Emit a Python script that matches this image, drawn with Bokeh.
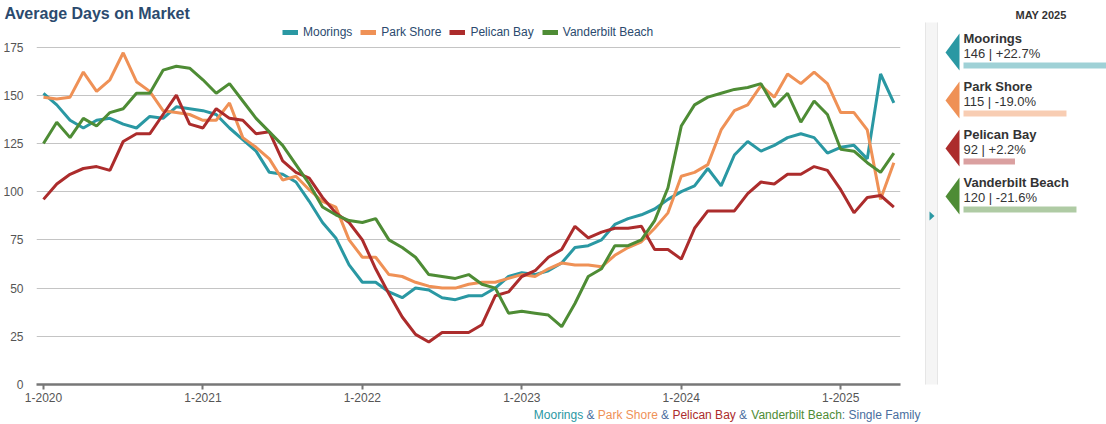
from bokeh.plotting import figure
from bokeh.models import Range1d, FixedTicker, Legend, LegendItem, Title
from bokeh.layouts import row, column
from bokeh.embed import file_html
from bokeh.resources import INLINE
from bokeh.core.properties import value

# ---------------- data ----------------
months = [f"{m}-{y}" for y in range(2020, 2026) for m in range(1, 13)][:65]

moorings = [151, 145, 137, 133, 137, 138, 135, 133, 139, 138,
            144, 143, 142, 140, 133, 127, 121, 110, 109, 105,
            95, 84, 76, 62, 53, 53, 48, 45, 50, 49,
            45, 44, 46, 46, 50, 56, 58, 57, 59, 63,
            71, 72, 75, 83, 86, 88, 91, 96, 100, 103,
            112, 103, 119, 126, 121, 124, 128, 130, 128, 120,
            123, 124, 117, 161, 146]
park_shore = [149, 148, 149, 162, 152, 158, 172, 157, 152, 142,
              141, 140, 137, 137, 146, 128, 123, 117, 106, 108,
              101, 95, 92, 75, 66, 66, 57, 56, 53, 51,
              50, 50, 52, 53, 53, 55, 57, 56, 60, 63,
              62, 62, 61, 67, 71, 74, 81, 89, 108, 110,
              114, 132, 142, 145, 155, 149, 161, 156, 162, 156,
              141, 141, 132, 96, 115]
pelican_bay = [96, 104, 109, 112, 113, 111, 126, 130, 130, 140,
               150, 135, 133, 143, 138, 137, 130, 131, 116, 110,
               107, 97, 89, 84, 75, 60, 47, 35, 26, 22,
               27, 27, 27, 31, 46, 48, 56, 59, 66, 70,
               82, 76, 79, 81, 81, 82, 70, 70, 65, 81,
               90, 90, 90, 99, 105, 104, 109, 109, 113, 111,
               101, 89, 97, 98, 92]
vanderbilt = [125, 136, 128, 138, 134, 141, 143, 151, 151, 163,
              165, 164, 158, 151, 156, 147, 138, 131, 124, 114,
              104, 92, 88, 85, 84, 86, 75, 71, 66, 57,
              56, 55, 57, 52, 50, 37, 38, 37, 36, 30,
              42, 56, 60, 72, 72, 75, 85, 102, 134, 145,
              149, 151, 153, 154, 156, 144, 151, 136, 147, 140,
              122, 121, 115, 110, 120]

series_names = ["Moorings", "Park Shore", "Pelican Bay", "Vanderbilt Beach"]
series_colors = ["#2a98a3", "#ef9156", "#ac2c2c", "#4e8c35"]
series_values = [moorings, park_shore, pelican_bay, vanderbilt]

latest_label = "MAY 2025"
latest_change = ["+22.7%", "-19.0%", "+2.2%", "-21.6%"]
bar_fill = [100, 72, 36, 79]   # relative bar length (percent)

x_tick_labels = ["1-2020", "1-2021", "1-2022", "1-2023", "1-2024", "1-2025"]
y_ticks = [0, 25, 50, 75, 100, 125, 150, 175]
chart_title = "Average Days on Market"
footnote_suffix = ": Single Family"

FONT = "Liberation Sans"
NAVY = "#2b4a6e"
STEEL = "#4a6e9e"

TOP = 22      # frame top (px)
BOTTOM = 384  # frame bottom (px)
H = 406

# ---------------- main chart ----------------
x = list(range(len(months)))
px_per_unit = (BOTTOM - 46.5) / 175.0
p = figure(width=924, height=H,
           x_range=Range1d(-0.525, 64.5),
           y_range=Range1d(0, (BOTTOM - TOP) / px_per_unit),
           output_backend="svg", toolbar_location=None,
           min_border_left=33, min_border_right=24,
           min_border_top=TOP, min_border_bottom=H - BOTTOM)
p.outline_line_color = None
p.background_fill_color = "white"
p.title = Title(text=chart_title, align="left", offset=-32, standoff=2,
                text_font=FONT, text_font_size="16px", text_font_style="bold",
                text_color=NAVY)

for name, color, vals in zip(series_names, series_colors, series_values):
    p.line(x, vals, line_color=color, line_width=3)

xticks = [months.index(t) for t in x_tick_labels]
p.xaxis.ticker = FixedTicker(ticks=xticks)
p.xaxis.major_label_overrides = {i: t for i, t in zip(xticks, x_tick_labels)}
p.xaxis.axis_line_color = "#777777"
p.xaxis.axis_line_width = 2.5
p.xaxis.major_tick_line_color = "#777777"
p.xaxis.major_tick_line_width = 2
p.xaxis.major_tick_out = 5
p.xaxis.major_tick_in = 0
p.xaxis.minor_tick_line_color = None
p.xaxis.major_label_text_font = FONT
p.xaxis.major_label_text_font_size = "12px"
p.xaxis.major_label_text_color = "#555555"
p.xaxis.major_label_standoff = 3

p.yaxis.ticker = FixedTicker(ticks=y_ticks)
p.yaxis.axis_line_color = None
p.yaxis.major_tick_line_color = None
p.yaxis.minor_tick_line_color = None
p.yaxis.major_label_text_font = FONT
p.yaxis.major_label_text_font_size = "12px"
p.yaxis.major_label_text_color = "#555555"
p.yaxis.major_label_standoff = 7

p.xgrid.grid_line_color = None
p.ygrid.ticker = FixedTicker(ticks=y_ticks)
p.ygrid.grid_line_color = "#c4c4c4"
p.ygrid.grid_line_width = 1

# legend (dummy renderers, drawn off-range, with thicker swatches)
items = []
for name, color in zip(series_names, series_colors):
    r = p.line([-100, -99], [-100, -100], line_color=color, line_width=5)
    items.append(LegendItem(label=name, renderers=[r]))
legend = Legend(items=items, orientation="horizontal", location=(246, BOTTOM - 40),
                padding=0, margin=0, border_line_color=None,
                background_fill_alpha=0, label_text_font=FONT,
                label_text_font_size="12px", label_text_color=NAVY,
                glyph_width=16, glyph_height=16, label_height=16,
                label_standoff=5, spacing=8)
p.add_layout(legend)

# ---------------- sidebar ----------------
s = figure(width=182, height=H, x_range=Range1d(924, 1106), y_range=Range1d(BOTTOM, TOP),
           output_backend="svg", toolbar_location=None,
           min_border_left=0, min_border_right=0,
           min_border_top=TOP, min_border_bottom=H - BOTTOM,
           x_axis_location=None, y_axis_location=None)
s.grid.visible = False
s.outline_line_color = None
s.title = Title(text=latest_label, align="left", offset=91, standoff=3,
                text_font=FONT, text_font_size="11px", text_font_style="bold",
                text_color="#333333")

s.quad(left=[925], right=[937], top=[3], bottom=[418],
       fill_color="#f5f5f5", line_color="#e6e6e6", line_width=1)
s.patch([929, 934, 929], [211, 215.5, 220], fill_color=series_colors[0], line_color=None)

n = len(series_names)
y0s = [38 + 48 * k for k in range(n)]
latest_vals = [v[-1] for v in series_values]
s.patches([[945, 959, 959] for _ in y0s],
          [[y0 + 14, y0 - 5, y0 + 32] for y0 in y0s],
          fill_color=series_colors, line_color=None)
s.text(x=[963] * n, y=y0s, text=series_names, text_font=value(FONT),
       text_font_size="13px", text_font_style="bold", text_color="#333333",
       text_baseline="middle")
s.text(x=[963] * n, y=[y0 + 15 for y0 in y0s],
       text=[f"{v} | {c}" for v, c in zip(latest_vals, latest_change)],
       text_font=value(FONT), text_font_size="13px", text_color="#333333",
       text_baseline="middle")
s.quad(left=[963] * n, right=[963 + b * 1.43 for b in bar_fill],
       top=[y0 + 24 for y0 in y0s], bottom=[y0 + 30 for y0 in y0s],
       fill_color=series_colors, fill_alpha=0.45, line_color=None)

# ---------------- footnote strip (its own small figure) ----------------
FH = 424 - H
f = figure(width=1106, height=FH, x_range=Range1d(0, 1106), y_range=Range1d(FH, 0),
           output_backend="svg", toolbar_location=None, min_border=0,
           x_axis_location=None, y_axis_location=None)
f.grid.visible = False
f.outline_line_color = None
seg_text = []
seg_color = []
for i, (name, color) in enumerate(zip(series_names, series_colors)):
    if i:
        seg_text.append("&")
        seg_color.append(STEEL)
    seg_text.append(name)
    seg_color.append(color)
seg_text.append(footnote_suffix)
seg_color.append(STEEL)
seg_right = [582.7, 594, 657.3, 668.6, 735.3, 746.6, 841.3, 920]   # right edge of each piece (px)
f.text(x=seg_right, y=[8] * len(seg_text), text=seg_text, text_color=seg_color,
       text_font=value(FONT), text_font_size="12px", text_baseline="middle",
       text_align="right")

layout = column(row(p, s, spacing=0), f, spacing=0)
open("out.html", "w").write(file_html(layout, INLINE))
